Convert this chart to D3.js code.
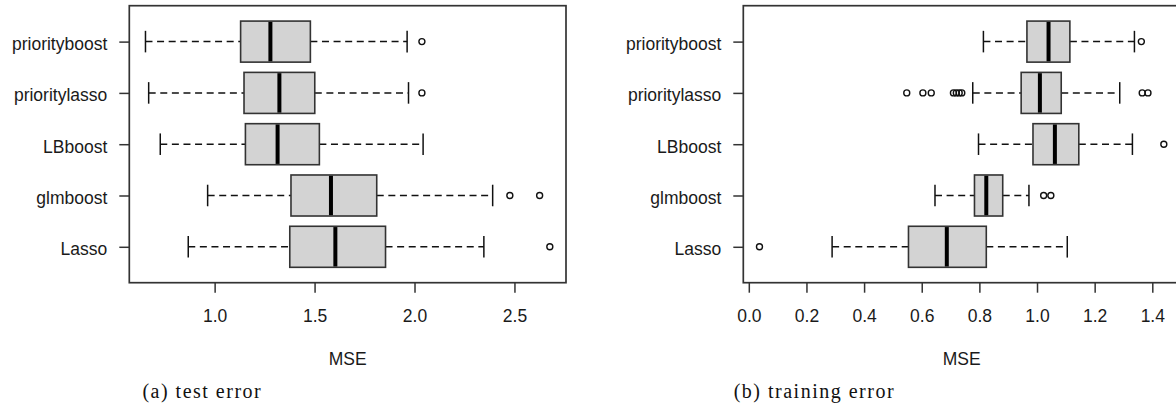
<!DOCTYPE html>
<html>
<head>
<meta charset="utf-8">
<script src="https://cdn.jsdelivr.net/npm/d3@7"></script>
<style>
  html, body { margin: 0; padding: 0; background: #fff; }
  svg { display: block; }
</style>
</head>
<body>
<svg id="chart" width="1176" height="408"></svg>
<script>
// Methods, bottom to top
const categories = ["Lasso", "glmboost", "LBboost", "prioritylasso", "priorityboost"];

// Test error (MSE) box statistics
const testLower   = [0.868, 0.965, 0.728, 0.670, 0.654];
const testQ1      = [1.376, 1.382, 1.154, 1.147, 1.130];
const testMedian  = [1.604, 1.582, 1.315, 1.324, 1.279];
const testQ3      = [1.855, 1.811, 1.524, 1.501, 1.479];
const testUpper   = [2.347, 2.391, 2.043, 1.970, 1.963];
const testOutliers = [[2.677], [2.477, 2.626], [], [2.037], [2.037]];
const testTicks   = [1.0, 1.5, 2.0, 2.5];

// Training error (MSE) box statistics
const trainLower  = [0.289, 0.646, 0.797, 0.777, 0.814];
const trainQ1     = [0.554, 0.783, 0.986, 0.945, 0.965];
const trainMedian = [0.687, 0.824, 1.062, 1.010, 1.040];
const trainQ3     = [0.824, 0.881, 1.145, 1.084, 1.114];
const trainUpper  = [1.105, 0.972, 1.331, 1.287, 1.338];
const trainOutliers = [[0.037], [1.023, 1.048], [1.440],
  [0.548, 0.604, 0.633, 0.710, 0.720, 0.730, 0.739, 1.365, 1.385], [1.362]];
const trainTicks  = [0.0, 0.2, 0.4, 0.6, 0.8, 1.0, 1.2, 1.4];

const svg = d3.select("#chart");
const SANS = "'Liberation Sans', Arial, sans-serif";
const SERIF = "'Liberation Serif', 'Times New Roman', serif";

const plotTop = 5.7, plotBottom = 282.7, plotW = 436.7;

function buildTable(lower, q1, med, q3, upper, outs) {
  return categories.map((c, i) => ({
    name: c, lower: lower[i], q1: q1[i], median: med[i], q3: q3[i], upper: upper[i], outliers: outs[i]
  }));
}

function drawPanel(x0, rows, ticks, caption, captionX) {
  const g = svg.append("g");

  // data extent padded 4% on each side
  const all = rows.flatMap(r => [r.lower, r.upper, ...r.outliers]);
  const lo = d3.min(all), hi = d3.max(all), pad = (hi - lo) * 0.04;
  const x = d3.scaleLinear().domain([lo - pad, hi + pad]).range([x0, x0 + plotW]);
  const y = d3.scalePoint().domain(categories).range([plotBottom, plotTop]).padding(0.7);
  const step = y.step();
  const boxHalf = 0.4 * step, capHalf = 0.21 * step;

  const rowG = g.selectAll("g.row").data(rows).join("g")
    .attr("class", "row")
    .attr("transform", d => `translate(0,${y(d.name)})`);

  // dashed whiskers
  rowG.append("line")
    .attr("x1", d => x(d.lower)).attr("x2", d => x(d.q1))
    .attr("stroke", "#111").attr("stroke-width", 1.5).attr("stroke-dasharray", "7,4.6");
  rowG.append("line")
    .attr("x1", d => x(d.q3)).attr("x2", d => x(d.upper))
    .attr("stroke", "#111").attr("stroke-width", 1.5).attr("stroke-dasharray", "7,4.6");

  // staples
  rowG.selectAll("line.cap").data(d => [d.lower, d.upper]).join("line")
    .attr("class", "cap")
    .attr("x1", v => x(v)).attr("x2", v => x(v))
    .attr("y1", -capHalf).attr("y2", capHalf)
    .attr("stroke", "#111").attr("stroke-width", 1.5);

  // boxes
  rowG.append("rect")
    .attr("x", d => x(d.q1)).attr("width", d => x(d.q3) - x(d.q1))
    .attr("y", -boxHalf).attr("height", 2 * boxHalf)
    .attr("fill", "#d3d3d3").attr("stroke", "#333").attr("stroke-width", 1.6);

  // medians
  rowG.append("line")
    .attr("x1", d => x(d.median)).attr("x2", d => x(d.median))
    .attr("y1", -boxHalf + 0.8).attr("y2", boxHalf - 0.8)
    .attr("stroke", "#000").attr("stroke-width", 4);

  // outliers
  rowG.selectAll("circle").data(d => d.outliers).join("circle")
    .attr("cx", v => x(v)).attr("cy", 0).attr("r", 3)
    .attr("fill", "none").attr("stroke", "#111").attr("stroke-width", 1.4);

  // frame
  g.append("rect")
    .attr("x", x0).attr("y", plotTop).attr("width", plotW).attr("height", plotBottom - plotTop)
    .attr("fill", "none").attr("stroke", "#333").attr("stroke-width", 1.7);

  // x axis
  const xa = g.append("g").attr("transform", `translate(0,${plotBottom})`)
    .call(d3.axisBottom(x).tickValues(ticks).tickSize(10).tickFormat(d3.format(".1f")));
  xa.select(".domain").remove();
  xa.selectAll(".tick line").attr("stroke", "#333").attr("stroke-width", 1.5);
  xa.selectAll(".tick text")
    .attr("y", 39).attr("dy", null)
    .attr("font-family", SANS).attr("font-size", 17.5).attr("fill", "#1a1a1a");

  // y axis
  const ya = g.append("g").attr("transform", `translate(${x0},0)`)
    .call(d3.axisLeft(y).tickSize(10));
  ya.select(".domain").remove();
  ya.selectAll(".tick line").attr("stroke", "#333").attr("stroke-width", 1.5);
  ya.selectAll(".tick text")
    .attr("x", -22).attr("dy", 8)
    .attr("font-family", SANS).attr("font-size", 17.5).attr("fill", "#1a1a1a");

  // axis title
  g.append("text")
    .attr("x", x0 + plotW / 2).attr("y", 365)
    .attr("text-anchor", "middle")
    .attr("font-family", SANS).attr("font-size", 17.5).attr("fill", "#1a1a1a")
    .text("MSE");

  // subfigure caption
  g.append("text")
    .attr("x", captionX).attr("y", 398)
    .attr("font-family", SERIF).attr("font-size", 20).attr("letter-spacing", 1.5)
    .attr("fill", "#111")
    .text(caption);
}

drawPanel(129.3, buildTable(testLower, testQ1, testMedian, testQ3, testUpper, testOutliers),
  testTicks, "(a) test error", 142.4);
drawPanel(743.3, buildTable(trainLower, trainQ1, trainMedian, trainQ3, trainUpper, trainOutliers),
  trainTicks, "(b) training error", 733.7);
</script>
</body>
</html>
